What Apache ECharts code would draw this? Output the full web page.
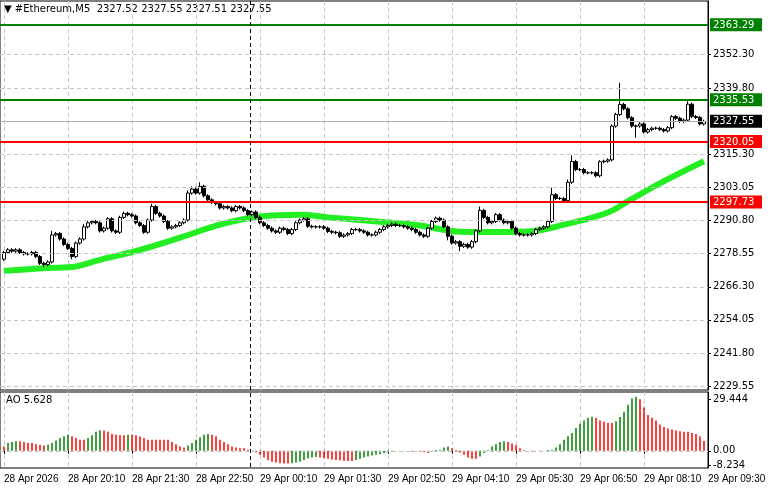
<!DOCTYPE html>
<html><head><meta charset="utf-8">
<script src="https://cdn.jsdelivr.net/npm/echarts@6/dist/echarts.min.js"></script>
<style>html,body{margin:0;padding:0;background:#fff}#c{width:781px;height:489px}</style>
</head><body><div id="c"></div>
<script>
const tickLabels = ['28 Apr 2026','28 Apr 20:10','28 Apr 21:30','28 Apr 22:50','29 Apr 00:10','29 Apr 01:30','29 Apr 02:50','29 Apr 04:10','29 Apr 05:30','29 Apr 06:50','29 Apr 08:10','29 Apr 09:30'];
const priceTicks = [2352.30,2339.80,2315.30,2303.05,2290.80,2278.55,2266.30,2254.05,2241.80,2229.55];
const greenLevels = [2363.29,2335.53];
const redLevels = [2320.05,2297.73];
const lastPrice = 2327.55;
const closes = [
2279,2280,2279.5,2280,2279,2278.5,2278.5,2279,2277.5,2275,
2274.5,2275.5,2285.5,2286,2284,2282,2280.5,2277.5,2282.5,2284,
2288.5,2290,2290.5,2290,2287,2288,2291.5,2287,2286.5,2292,
2293.5,2293,2292.5,2290,2289,2286.5,2291,2296,2293.5,2292.5,
2290.5,2288,2288.5,2289,2290,2291,2301,2302.5,2301,2303.5,
2300,2298.5,2297.5,2297,2295.5,2296,2295.5,2294.5,2296,2295.5,
2294.5,2293,2294,2292,2290,2289,2288,2287,2286.5,2288,
2287.5,2286,2287.5,2290,2291,2291.5,2288.7,2288.5,2288.5,2288.5,
2288,2286.8,2286.5,2286.3,2285,2285.5,2286,2287.5,2287.5,2287,
2286.5,2285.5,2285.5,2286.5,2287.5,2288.5,2289,2289.5,2289,2289,
2288.5,2288,2287.5,2286.5,2285.5,2285,2288,2290.5,2291.7,2291,
2288.5,2285,2282.5,2283,2281.3,2282,2281,2283,2287,2294.6,
2292,2290,2290.5,2293,2291,2290,2290.5,2288,2286,2285.5,
2285.5,2285.5,2286,2287.5,2288,2288.5,2290.5,2300.4,2299,2299,
2298.2,2305,2312.7,2309.7,2309.7,2308.5,2308.5,2308.5,2307.4,2312.6,
2312.8,2313.3,2325.8,2330.1,2333.8,2332.2,2328.9,2325.8,2325.8,2326.6,
2323.6,2324.5,2325,2325,2324.5,2324,2325.2,2329.3,2328.7,2327.5,
2328,2333.9,2329.3,2329,2326.6,2327.55];
const firstOpen = 2276.5;
const highExtra = {12:2287,20:2289.5,37:2297,46:2302,47:2303.5,49:2305,119:2296,137:2303,141:2306,142:2315,152:2326.5,154:2341.8,171:2335};
const lowExtra = {10:2273.5,17:2276.5,114:2279.5,158:2321.5,111:2283.5};
const maPoints = {0:2272.2,11:2273.3,16:2273.5,24:2276.3,34:2280,44:2284.5,54:2289.3,64:2292.3,74:2293,81:2292,94:2290.4,104:2289,114:2286.7,121:2286.6,131:2286.8,140:2289.3,151:2293.8,156:2298,165:2305.4,175:2312.8};
const aoValues = [
2.5,4.4,5,5.4,5.4,5,4.4,4.4,3.8,3.5,3,3.5,4.4,5.8,7.3,8.3,9.2,8.3,7.3,6.3,
6.3,7.3,8.8,10.8,11.7,11.5,10.8,9.6,9.2,8.8,8.8,9.2,9.2,8.8,8.1,7.3,6.3,6.3,6.3,6.3,
6.3,6.3,5,3.8,2.5,1.9,3,4.4,6.3,7.7,9.2,9.6,9.2,8.3,6.3,5,3.8,2.5,1.9,1.5,
1.5,0.6,0,-0.8,-2.3,-3.8,-5.2,-6.2,-6.7,-7.1,-7.3,-7.3,-7.1,-6.7,-6.2,-5.2,-4.2,-3.8,-3.6,-3.8,
-4.2,-4.6,-5,-5.2,-5.4,-5.6,-5.8,-5.8,-5.2,-4.6,-3.8,-3.3,-2.7,-2.3,-1.9,-1.3,-0.8,-0.4,0,0,
0.2,0,-0.4,0,-0.4,-0.8,-1.2,-0.4,0.4,0.6,1.9,2.5,1.5,0.4,-1,-2.3,-3.8,-4.6,-4.6,-3.3,
-1.3,0.4,2.5,3.8,5,5.4,5,4.2,3.1,1.5,0.4,0,-0.4,0,-0.6,0,0.4,0.6,1.9,3.8,
6.3,8.3,10.2,13,15.4,17.3,18.8,19.4,18.8,17.3,16.5,15.9,15.9,16.9,19.2,22.3,26.2,30,30.8,29.4,
24.6,20.4,18.8,17.3,15,13.5,12.7,12.1,11.5,11.2,10.8,10.8,10.2,9.6,8.3,5.6];

const N = 178;
const cats = Array.from({length:N},(_,i)=>String(i));
const candles = ['-'];
for (let i=0;i<closes.length;i++){
  const o = i===0?firstOpen:closes[i-1], c = closes[i];
  const h = highExtra[i]!==undefined?highExtra[i]:Math.max(o,c)+0.6;
  const l = lowExtra[i]!==undefined?lowExtra[i]:Math.min(o,c)-0.6;
  candles.push([o,c,l,h]);
}
const ma = ['-'].concat(closes.map((_,i)=>maPoints[i]!==undefined?maPoints[i]:null));
const ao = ['-'].concat(aoValues.map((v,i)=>({value:v,itemStyle:{color:(i>0&&v>aoValues[i-1])?'#008000':'#ff0000'}})));
const fmt = v=>v.toFixed(2);
const near=(a,b)=>Math.abs(a-b)<0.005;
const font='"DejaVu Sans"';
const xfont='"Liberation Sans"';
const box = (bg)=>({backgroundColor:bg,color:'#fff',padding:[2,3,1,3],width:46,fontSize:10,fontFamily:font});

const chart = echarts.init(document.getElementById('c'),null,{renderer:'canvas'});
chart.setOption({
  animation:false,
  backgroundColor:'#fff',
  grid:[
    {left:0,right:73,top:1,height:389,show:true,borderColor:'#000',borderWidth:1,backgroundColor:'transparent'},
    {left:0,right:73,top:392,height:76,show:true,borderColor:'#000',borderWidth:1,backgroundColor:'transparent'}
  ],
  xAxis:[
    {type:'category',data:cats,gridIndex:0,boundaryGap:false,axisLabel:{show:false},axisTick:{show:false},axisLine:{show:false},
     splitLine:{show:true,interval:(i)=>(i-1)%16===0,lineStyle:{color:'#c8c8c8',type:[4,3]}}},
    {type:'category',data:cats,gridIndex:1,boundaryGap:false,axisLine:{show:false},
     axisTick:{show:true,interval:(i)=>(i-1)%16===0,length:3,lineStyle:{color:'#000'}},
     axisLabel:{interval:(i)=>(i-1)%16===0,hideOverlap:false,formatter:(v,i)=>tickLabels[(i-1)/16]||'',align:'left',fontSize:10,fontFamily:xfont,color:'#000',margin:6},
     splitLine:{show:true,interval:(i)=>(i-1)%16===0,lineStyle:{color:'#c8c8c8',type:[4,3]}}}
  ],
  yAxis:[
    {type:'value',gridIndex:0,position:'right',min:2228.1,max:2372.1,
     axisLine:{show:true,lineStyle:{color:'#000'}},splitLine:{show:false},
     axisTick:{show:true,customValues:priceTicks,length:3,lineStyle:{color:'#000'}},
     axisLabel:{customValues:priceTicks.concat(greenLevels,redLevels,[lastPrice]),margin:2,fontSize:10,fontFamily:font,color:'#000',
       formatter:(v)=>{ if(greenLevels.some(x=>near(x,v))) return '{g|'+fmt(v)+'}';
         if(redLevels.some(x=>near(x,v))) return '{r|'+fmt(v)+'}';
         if(near(v,lastPrice)) return '{k|'+fmt(v)+'}';
         return '{n|'+fmt(v)+'}';},
       rich:{g:box('#008000'),r:box('#ff0000'),k:box('#000'),n:{fontSize:10,fontFamily:font,color:'#000',padding:[0,3]}}}},
    {type:'value',gridIndex:1,position:'right',min:-9.8,max:33.5,
     axisLine:{show:true,lineStyle:{color:'#000'}},splitLine:{show:false},
     axisTick:{show:true,customValues:[29.444,0,-8.234],length:3,lineStyle:{color:'#000'}},
     axisLabel:{customValues:[29.444,0,-8.234],margin:5,fontSize:10,fontFamily:font,color:'#000',
       formatter:v=>near(v,0)?'0.00':String(v)}}
  ],
  series:[
    {type:'line',xAxisIndex:0,yAxisIndex:0,data:[],silent:true,
     markLine:{silent:true,symbol:'none',label:{show:false},lineStyle:{color:'#c8c8c8',type:[4,3],width:1},
       data:priceTicks.map(v=>({yAxis:v}))}},
    {type:'line',xAxisIndex:0,yAxisIndex:0,data:[],silent:true,
     markLine:{silent:true,symbol:'none',label:{show:false},
       data:[{yAxis:lastPrice,lineStyle:{color:'#b0b0b0',width:1,type:'solid'}}]
         .concat(greenLevels.map(v=>({yAxis:v,lineStyle:{color:'#008000',width:2,type:'solid'}})))
         .concat(redLevels.map(v=>({yAxis:v,lineStyle:{color:'#ff0000',width:2,type:'solid'}})))}},
    {type:'line',xAxisIndex:0,yAxisIndex:0,data:ma,connectNulls:true,smooth:0.4,showSymbol:false,
     lineStyle:{color:'#22ee22',width:6},z:3},
    {type:'candlestick',xAxisIndex:0,yAxisIndex:0,data:candles,barWidth:3,z:4,
     itemStyle:{color:'#fff',color0:'#000',borderColor:'#000',borderColor0:'#000',borderWidth:1}},
    {type:'bar',xAxisIndex:1,yAxisIndex:1,data:ao,barWidth:1.5,
     markLine:{silent:true,symbol:'none',label:{show:false},lineStyle:{color:'#c0c0c0',type:[4,3],width:1},data:[{yAxis:0}]}}
  ],
  graphic:[
    {type:'line',shape:{x1:250.5,y1:1,x2:250.5,y2:468},style:{stroke:'#000',lineDash:[4,3],lineWidth:1},z:10},
    {type:'text',left:4,top:4,style:{text:'▼ #Ethereum,M5  2327.52 2327.55 2327.51 2327.55',font:'10px '+font,fill:'#000'}},
    {type:'text',left:6,top:395,style:{text:'AO 5.628',font:'10px '+font,fill:'#000'}}
  ]
});
</script></body></html>
